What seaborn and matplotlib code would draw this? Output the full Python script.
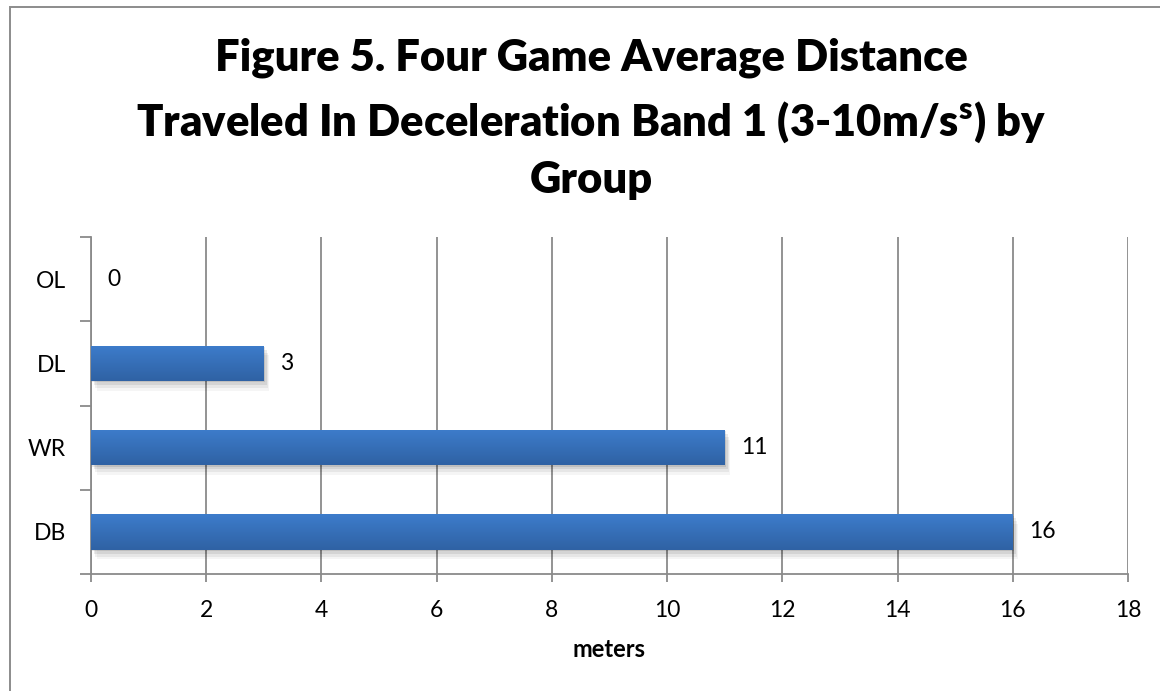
import numpy as np
import matplotlib
matplotlib.use("Agg")
import matplotlib.pyplot as plt
import matplotlib.patheffects as pe
from matplotlib.colors import LinearSegmentedColormap
from matplotlib.patches import Rectangle
import seaborn as sns
import pandas as pd

# Data
groups = ["OL", "DL", "WR", "DB"]
meters = [0, 3, 11, 16]
x_ticks = [0, 2, 4, 6, 8, 10, 12, 14, 16, 18]

sns.set_theme(style="white")
plt.rcParams["font.family"] = ["Lato", "DejaVu Sans"]
plt.rcParams["text.color"] = "black"
plt.rcParams["mathtext.fontset"] = "custom"
plt.rcParams["mathtext.rm"] = "Lato"
plt.rcParams["mathtext.bf"] = "Lato:heavy"

W, H = 1160, 691
fig = plt.figure(figsize=(W / 100, H / 100), dpi=100)
ax = fig.add_axes([91 / W, 1 - 574 / H, (1128 - 91) / W, (574 - 237) / H])

df = pd.DataFrame({"group": groups, "meters": meters})
sns.barplot(data=df, x="meters", y="group", order=groups, orient="h",
            width=0.42, color="#3570bb", linewidth=0, ax=ax, zorder=3)

# gradient fill + soft shadow on each bar
grad = LinearSegmentedColormap.from_list("bar", ["#3d7ccb", "#2f62a4"])
shadow = [pe.SimplePatchShadow(offset=(dx, dy), shadow_rgbFace="#000000", alpha=a)
          for dx, dy, a in [(1, -1, 0.10), (2, -3, 0.08), (3, -5, 0.06), (4, -7, 0.04)]]
for patch in ax.patches:
    w = patch.get_width()
    if w <= 0:
        patch.set_visible(False)
        continue
    y0 = patch.get_y()
    h = patch.get_height()
    patch.set_path_effects(shadow + [pe.Normal()])
    img = ax.imshow(np.linspace(0, 1, 64).reshape(-1, 1), cmap=grad, aspect="auto",
                    extent=(0, w, y0 + h, y0), zorder=4, interpolation="bicubic")
    img.set_clip_path(patch)

ax.set_xlim(0, 18)
ax.set_ylim(3.5, -0.5)
ax.set_xticks(x_ticks)
ax.set_xticklabels([str(t) for t in x_ticks])

grid_c = "#8a8a8a"
ax.xaxis.grid(True, color=grid_c, linewidth=1.3)
ax.yaxis.grid(False)
ax.set_axisbelow(True)

for s in ["top", "right"]:
    ax.spines[s].set_visible(False)
for s in ["left", "bottom"]:
    ax.spines[s].set_color(grid_c)
    ax.spines[s].set_linewidth(1.3)

ax.tick_params(axis="x", which="major", direction="out", length=6, width=1.3,
               color=grid_c, labelsize=16.5, pad=13, labelcolor="black", bottom=True)
ax.tick_params(axis="y", which="major", length=0, labelsize=16.5, pad=18, labelcolor="black")
ax.set_yticks(np.arange(-0.5, 4.0, 1.0), minor=True)
ax.tick_params(axis="y", which="minor", direction="out", length=8, width=1.3,
               color=grid_c, left=True)

ax.set_ylabel("")
ax.set_xlabel("meters", fontsize=17, fontweight="bold", labelpad=12, color="black")

for i, v in enumerate(meters):
    ax.annotate(str(v), xy=(v, i), xytext=(16, 0), textcoords="offset pixels",
                va="center", ha="left", fontsize=16.5, color="black")

# title
title_kw = dict(ha="center", va="center", fontsize=31.3, fontweight="heavy", color="black")
fig.text(591 / W, 1 - 58 / H, "Figure 5. Four Game Average Distance", **title_kw)
fig.text(591 / W, 1 - 122 / H, r"Traveled In Deceleration Band 1 (3-10m/s$^{\mathbf{s}}$) by", **title_kw)
fig.text(591 / W, 1 - 180 / H, "Group", **title_kw)

# chart area border
fig.patches.append(Rectangle((10 / W, -0.05), 1.2, 1 - 7 / H + 0.05, transform=fig.transFigure,
                             fill=False, edgecolor="#8c8c8c", linewidth=1.4))

fig.savefig("out.png", dpi=100)
